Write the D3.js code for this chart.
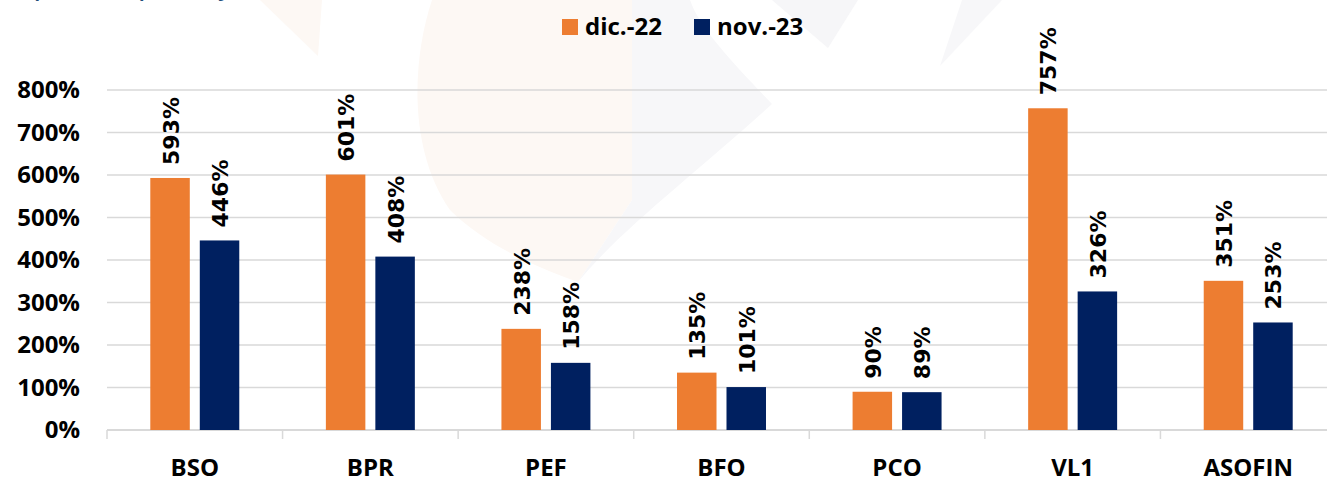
<!DOCTYPE html>
<html>
<head>
<meta charset="utf-8">
<script src="https://cdn.jsdelivr.net/npm/d3@7"></script>
<style>
  body { margin: 0; background: #fff; }
  svg { display: block; }
</style>
</head>
<body>
<div id="chart"></div>
<script>
// chart data
var categories = ["BSO", "BPR", "PEF", "BFO", "PCO", "VL1", "ASOFIN"];
var seriesNames = ["dic.-22", "nov.-23"];
var dic22 = [593, 601, 238, 135, 90, 757, 351];
var nov23 = [446, 408, 158, 101, 89, 326, 253];
var yTicks = [0, 100, 200, 300, 400, 500, 600, 700, 800];

var colors = {"dic.-22": "#ED7D31", "nov.-23": "#002060"};

var width = 1327, height = 482;

var svg = d3.select("#chart")
  .append("svg")
  .attr("width", width)
  .attr("height", height);

// faint logo watermark in the background
var wm = svg.append("g").attr("class", "watermark");
wm.append("path")
  .attr("d", "M260,0 L322,0 L318,56 Z")
  .style("fill", "#fdf8f4");
wm.append("path")
  .attr("d", "M432,0 C412,60 408,150 450,210 C490,250 550,272 578,282 L632,200 L632,0 Z")
  .style("fill", "#fdf8f4");
wm.append("path")
  .attr("d", "M632,0 L632,200 L578,282 C620,230 700,170 772,104 C740,70 700,30 690,0 Z")
  .style("fill", "#f7f7f9");
wm.append("path")
  .attr("d", "M772,0 L858,0 L828,48 Z")
  .style("fill", "#f6f6f8");
wm.append("path")
  .attr("d", "M962,0 L1002,0 L940,66 Z")
  .style("fill", "#f7f7f9");

// subtitle cut off at the top edge, as in the source image
svg.append("text")
  .attr("x", 8)
  .attr("y", -3)
  .text("(Expresado en porcentaje)")
  .style("font-family", "'Open Sans', sans-serif")
  .style("font-weight", "bold")
  .style("font-size", "18px")
  .style("fill", "#1F4E79");

// scales
var x0 = d3.scaleBand()
  .domain(categories)
  .range([107, 1336])
  .padding(0);

var x1 = d3.scaleBand()
  .domain(seriesNames)
  .range([0, x0.bandwidth()])
  .paddingInner(0.202)
  .paddingOuter(0.875);

var y = d3.scaleLinear()
  .domain([0, 800])
  .range([430, 90]);

// gridlines
svg.append("g")
  .selectAll("line")
  .data(yTicks.filter(function(d) { return d > 0; }))
  .enter()
  .append("line")
  .attr("x1", 107)
  .attr("x2", width)
  .attr("y1", function(d) { return y(d); })
  .attr("y2", function(d) { return y(d); })
  .style("stroke", "#d9d9d9")
  .style("stroke-width", 1.5);

// y axis labels
var yAxis = svg.append("g")
  .attr("transform", "translate(80,0)")
  .call(d3.axisLeft(y).tickValues(yTicks).tickSize(0).tickPadding(0)
    .tickFormat(function(d) { return d + "%"; }));
yAxis.select(".domain").remove();
yAxis.selectAll("text")
  .style("font-family", "'Open Sans', sans-serif")
  .style("font-weight", "bold")
  .style("font-size", "24px")
  .style("fill", "#000");

// x axis with ticks between categories
var xEdges = categories.map(function(c) { return x0(c); });
xEdges.push(x0.range()[1]);

svg.append("line")
  .attr("x1", 107)
  .attr("x2", width)
  .attr("y1", y(0))
  .attr("y2", y(0))
  .style("stroke", "#d9d9d9")
  .style("stroke-width", 2);

svg.append("g")
  .selectAll("line")
  .data(xEdges)
  .enter()
  .append("line")
  .attr("x1", function(d) { return d; })
  .attr("x2", function(d) { return d; })
  .attr("y1", y(0))
  .attr("y2", y(0) + 9)
  .style("stroke", "#d9d9d9")
  .style("stroke-width", 1.5);

svg.append("g")
  .selectAll("text")
  .data(categories)
  .enter()
  .append("text")
  .attr("x", function(d) { return x0(d) + x0.bandwidth() / 2; })
  .attr("y", 476)
  .attr("text-anchor", "middle")
  .text(function(d) { return d; })
  .style("font-family", "'Open Sans', sans-serif")
  .style("font-weight", "bold")
  .style("font-size", "24px")
  .style("fill", "#000");

// bars
var rows = categories.map(function(c, i) {
  return {cat: c, values: [
    {key: "dic.-22", value: dic22[i]},
    {key: "nov.-23", value: nov23[i]}
  ]};
});

var groups = svg.append("g")
  .selectAll("g")
  .data(rows)
  .enter()
  .append("g")
  .attr("transform", function(d) { return "translate(" + x0(d.cat) + ",0)"; });

groups.selectAll("rect")
  .data(function(d) { return d.values; })
  .enter()
  .append("rect")
  .attr("x", function(d) { return x1(d.key); })
  .attr("y", function(d) { return y(d.value); })
  .attr("width", x1.bandwidth())
  .attr("height", function(d) { return y(0) - y(d.value); })
  .style("fill", function(d) { return colors[d.key]; });

// rotated value labels
groups.selectAll("text")
  .data(function(d) { return d.values; })
  .enter()
  .append("text")
  .attr("transform", function(d) {
    return "translate(" + (x1(d.key) + x1.bandwidth() / 2 + 1) + "," + (y(d.value) - 13) + ")rotate(-90)";
  })
  .attr("dominant-baseline", "central")
  .text(function(d) { return d.value + "%"; })
  .style("font-family", "'DejaVu Sans', sans-serif")
  .style("font-weight", "bold")
  .style("font-size", "22px")
  .style("fill", "#000");

// legend
var legend = svg.append("g")
  .selectAll("g")
  .data(seriesNames)
  .enter()
  .append("g")
  .attr("transform", function(d, i) { return "translate(" + (562 + i * 132) + ",19)"; });

legend.append("rect")
  .attr("width", 16)
  .attr("height", 16)
  .style("fill", function(d) { return colors[d]; });

legend.append("text")
  .attr("x", 23)
  .attr("y", 16)
  .text(function(d) { return d; })
  .style("font-family", "'Open Sans', sans-serif")
  .style("font-weight", "bold")
  .style("font-size", "24px")
  .style("fill", "#000");
</script>
</body>
</html>
